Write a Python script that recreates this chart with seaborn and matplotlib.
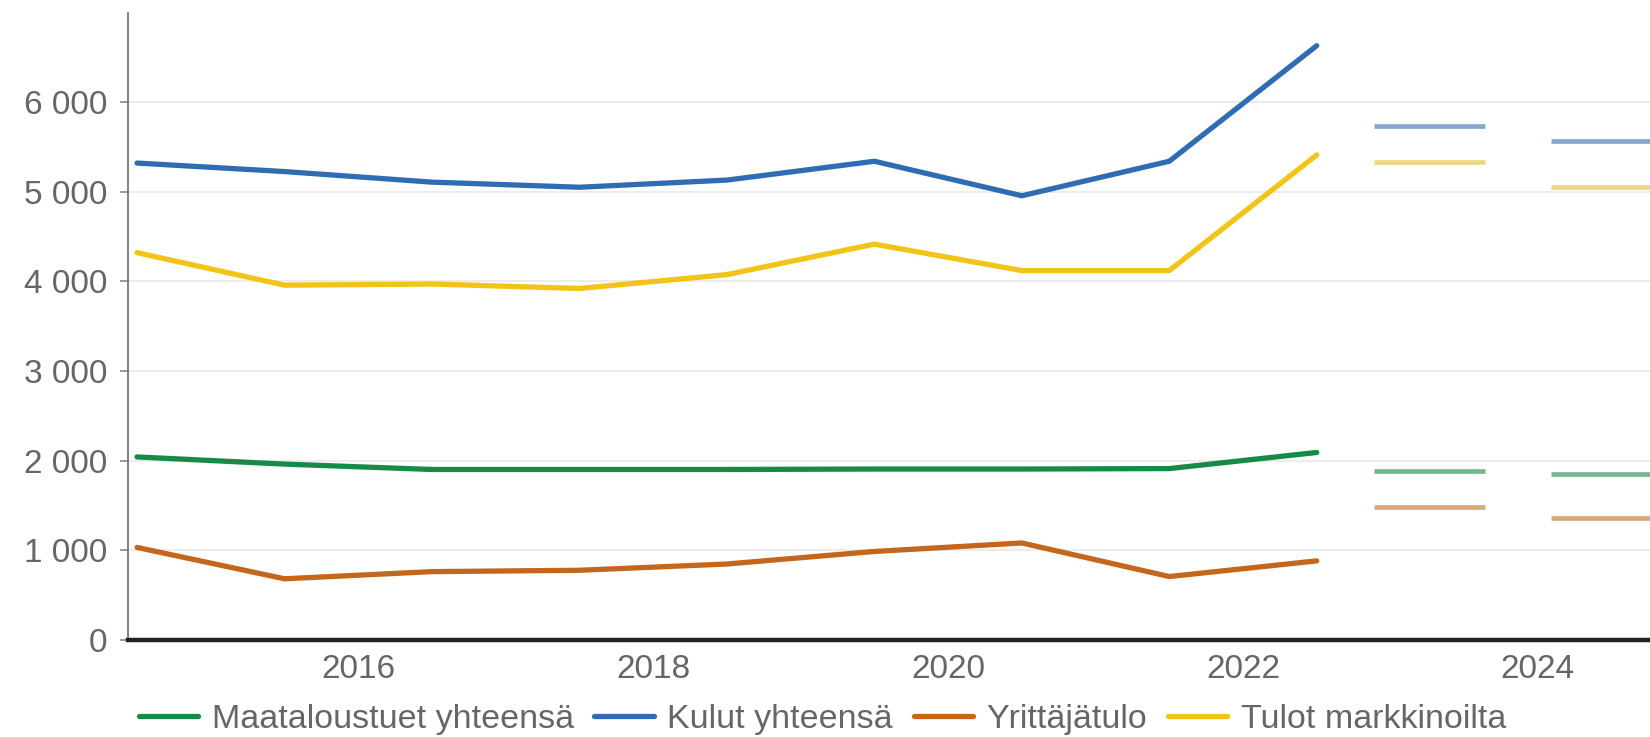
import numpy as np
import pandas as pd
import matplotlib
matplotlib.use("Agg")
import matplotlib.pyplot as plt
import seaborn as sns

years = [2014.5, 2015.5, 2016.5, 2017.5, 2018.5, 2019.5, 2020.5, 2021.5, 2022.5]
series_names = ["Maataloustuet yhteensä", "Kulut yhteensä", "Yrittäjätulo", "Tulot markkinoilta"]
maataloustuet = [2040, 1960, 1900, 1900, 1900, 1905, 1905, 1910, 2090]
kulut = [5320, 5225, 5107, 5050, 5130, 5340, 4955, 5340, 6630]
yrittajatulo = [1030, 680, 760, 775, 845, 985, 1080, 705, 880]
tulot = [4320, 3957, 3970, 3920, 4075, 4415, 4120, 4120, 5410]

forecast_start = [2022.89, 2024.09]
forecast_end = [2023.64, 2025.2]
fc_maataloustuet = [1880, 1855]
fc_kulut = [5730, 5565]
fc_yrittajatulo = [1480, 1360]
fc_tulot = [5330, 5050]

y_ticks = [0, 1000, 2000, 3000, 4000, 5000, 6000]
y_ticklabels = ["0", "1 000", "2 000", "3 000", "4 000", "5 000", "6 000"]
x_ticks = [2016, 2018, 2020, 2022, 2024]

colors = {"Maataloustuet yhteensä": "#168a48",
          "Kulut yhteensä": "#2f6db3",
          "Yrittäjätulo": "#c4661c",
          "Tulot markkinoilta": "#f2c416"}
fc_colors = {"Maataloustuet yhteensä": "#74b793",
             "Kulut yhteensä": "#86a8cf",
             "Yrittäjätulo": "#d7a97f",
             "Tulot markkinoilta": "#ecd878"}

sns.set_theme(style="white")
plt.rcParams["font.family"] = ["Liberation Sans", "DejaVu Sans"]

df = pd.DataFrame({
    "year": years * 4,
    "value": maataloustuet + kulut + yrittajatulo + tulot,
    "series": sum([[n] * len(years) for n in series_names], []),
})

fig = plt.figure(figsize=(16.5, 7.37), dpi=100)
ax = fig.add_axes([0.0777, 0.132, 0.9223, 0.851])

ax.grid(axis="y", color="#e9e9e9", linewidth=1.2)
ax.set_axisbelow(True)

sns.lineplot(data=df, x="year", y="value", hue="series", hue_order=series_names,
             palette=colors, linewidth=3.8, ax=ax, legend=True)

fc = {"Maataloustuet yhteensä": fc_maataloustuet, "Kulut yhteensä": fc_kulut,
      "Yrittäjätulo": fc_yrittajatulo, "Tulot markkinoilta": fc_tulot}
for name, vals in fc.items():
    ax.hlines(vals, forecast_start, forecast_end, colors=fc_colors[name], linewidth=3.4)

ax.set_xlim(2014.44, 2024.76)
ax.set_ylim(0, 7000)
ax.set_yticks(y_ticks)
ax.set_yticklabels(y_ticklabels)
ax.set_xticks(x_ticks)
ax.set_xticklabels([str(x) for x in x_ticks])
ax.set_xlabel("")
ax.set_ylabel("")

for s in ["top", "right"]:
    ax.spines[s].set_visible(False)
ax.spines["left"].set_color("#777777")
ax.spines["left"].set_linewidth(1.3)
ax.spines["bottom"].set_color("#222222")
ax.spines["bottom"].set_linewidth(3.2)

ax.tick_params(axis="y", which="major", left=True, length=6, width=1.2, color="#888888",
               labelsize=24, labelcolor="#666666", pad=9)
ax.tick_params(axis="x", which="major", bottom=False, labelsize=24, labelcolor="#666666", pad=4)

handles, labels = ax.get_legend_handles_labels()
ax.legend(handles, labels, loc="center left", bbox_to_anchor=(0.084, 0.024),
          bbox_transform=fig.transFigure, ncol=4, frameon=False, fontsize=24.5,
          labelcolor="#666666", handlelength=1.75, handletextpad=0.4, columnspacing=0.6,
          borderaxespad=0, borderpad=0)

fig.savefig("out.png", dpi=100)
